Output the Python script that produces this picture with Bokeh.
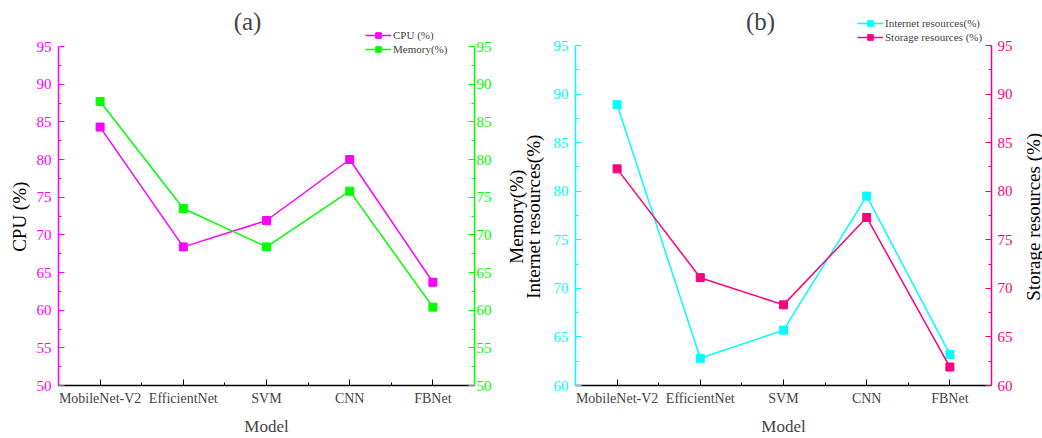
import math
from bokeh.plotting import figure
from bokeh.models import Range1d, LinearAxis, FixedTicker, Legend, LegendItem, Label
from bokeh.layouts import row
from bokeh.embed import file_html
from bokeh.resources import INLINE

models = ["MobileNet-V2", "EfficientNet", "SVM", "CNN", "FBNet"]
cpu = [84.3, 68.4, 71.9, 80.0, 63.7]
memory = [87.7, 73.5, 68.4, 75.8, 60.4]
internet = [88.9, 62.8, 65.7, 79.5, 63.2]
storage = [82.3, 71.1, 68.3, 77.3, 61.9]
ticks_a = [50, 55, 60, 65, 70, 75, 80, 85, 90, 95]
ticks_b = [60, 65, 70, 75, 80, 85, 90, 95]

FONT = "Liberation Serif"
MAGENTA = "#FF00FF"
GREEN = "#00FF00"
CYAN = "#00FFFF"
PINK = "#FF0080"
PAD = "\u00a0" * 10  # shifts rotated axis titles down to the centre of the tick span


def style_y_axis(ax, color, ticks, standoff):
    ax.ticker = FixedTicker(ticks=ticks, minor_ticks=[t + 2.5 for t in ticks[:-1]])
    ax.bounds = (ticks[0], ticks[-1])
    ax.axis_label = None
    ax.axis_line_color = color
    ax.axis_line_width = 1.5
    ax.major_tick_line_color = color
    ax.minor_tick_line_color = color
    ax.major_tick_line_width = 1.2
    ax.minor_tick_line_width = 1.2
    ax.major_tick_in = 6
    ax.major_tick_out = 0
    ax.minor_tick_in = 3
    ax.minor_tick_out = 0
    ax.major_label_text_color = color
    ax.major_label_text_font = FONT
    ax.major_label_text_font_size = "15px"
    ax.major_label_standoff = standoff


def make_panel(title, title_pos, left_vals, right_vals, left_color, right_color,
               left_name, right_name, ticks, width, bl, br, top_px,
               legend_loc, ls, rs):
    lo, hi = ticks[0], ticks[-1]
    bb = 53
    frame_px = 438 - bb
    hi_ext = hi + top_px * (hi - lo) / (frame_px - top_px)
    p = figure(width=width, height=438, output_backend="svg", toolbar_location=None,
               title=None,
               x_range=Range1d(-0.5, 4.5), y_range=Range1d(lo, hi_ext),
               min_border_left=bl, min_border_right=br, min_border_top=0,
               min_border_bottom=bb)
    p.extra_y_ranges = {"right": Range1d(lo, hi_ext)}
    p.outline_line_color = None
    p.xgrid.visible = False
    p.ygrid.visible = False
    p.background_fill_color = "white"
    p.border_fill_color = "white"

    xs = list(range(len(models)))
    xa = p.xaxis[0]
    xa.ticker = FixedTicker(ticks=xs, minor_ticks=[i + 0.5 for i in xs[:-1]])
    xa.major_label_overrides = {i: m for i, m in enumerate(models)}
    xa.axis_label = "Model"
    xa.axis_label_text_font = FONT
    xa.axis_label_text_font_size = "17px"
    xa.axis_label_text_font_style = "normal"
    xa.axis_label_standoff = 8
    xa.axis_line_color = "black"
    xa.axis_line_width = 1.5
    xa.major_tick_in = 6
    xa.major_tick_out = 0
    xa.minor_tick_in = 3
    xa.minor_tick_out = 0
    xa.major_label_text_font = FONT
    xa.major_label_text_font_size = "14px"
    xa.major_label_standoff = 5

    style_y_axis(p.yaxis[0], left_color, ticks, ls)
    rax = LinearAxis(y_range_name="right")
    style_y_axis(rax, right_color, ticks, rs)
    p.add_layout(rax, "right")

    l1 = p.line(xs, left_vals, line_color=left_color, line_width=1.5)
    s1 = p.scatter(xs, left_vals, marker="square", size=8, fill_color=left_color,
                   line_color=left_color)
    l2 = p.line(xs, right_vals, line_color=right_color, line_width=1.5,
                y_range_name="right")
    s2 = p.scatter(xs, right_vals, marker="square", size=8, fill_color=right_color,
                   line_color=right_color, y_range_name="right")

    legend = Legend(items=[LegendItem(label=left_name, renderers=[l1, s1]),
                           LegendItem(label=right_name, renderers=[l2, s2])],
                    location=legend_loc)
    legend.background_fill_alpha = 0
    legend.border_line_color = None
    legend.padding = 0
    legend.margin = 0
    legend.spacing = 0
    legend.glyph_width = 26
    legend.glyph_height = 14
    legend.label_height = 14
    legend.label_standoff = 2
    legend.label_text_font = FONT
    legend.label_text_font_size = "11px"
    p.add_layout(legend)

    p.add_layout(Label(x=title_pos[0], y=title_pos[1], x_units="screen",
                       y_units="screen", text=title, text_align="center",
                       text_baseline="middle", text_font=FONT,
                       text_font_size="25px"))
    return p


def label_fig(width, labels):
    # narrow strip whose left side panel carries the rotated axis titles
    d = figure(width=width, height=438, output_backend="svg", toolbar_location=None,
               title=None, x_axis_location=None, y_axis_location=None,
               x_range=Range1d(0, 1), y_range=Range1d(0, 1),
               min_border_left=width - 1, min_border_right=0,
               min_border_top=0, min_border_bottom=53)
    d.outline_line_color = None
    d.background_fill_color = "white"
    d.border_fill_color = "white"
    for g in d.grid:
        g.visible = False
    for text, standoff in labels:
        ax = LinearAxis(ticker=FixedTicker(ticks=[]), axis_label=text + PAD)
        ax.axis_label_standoff = standoff
        ax.axis_label_text_font = FONT
        ax.axis_label_text_font_size = "19px"
        ax.axis_label_text_font_style = "normal"
        ax.axis_label_text_color = "black"
        ax.axis_line_color = None
        ax.major_tick_in = 0
        ax.major_tick_out = 0
        ax.minor_tick_in = 0
        ax.minor_tick_out = 0
        ax.major_label_standoff = 0
        d.add_layout(ax, "left")
    return d


fl = label_fig(33, [("CPU (%)", 3)])
pa = make_panel("(a)", (189, 364), cpu, memory, MAGENTA, GREEN,
                "CPU (%)", "Memory(%)", ticks_a, 461, 25, 17, 46, (307, 329), 7, 2)
fm = label_fig(56, [("Internet resources(%)", 6), ("Memory(%)", -7)])
pb = make_panel("(b)", (185, 364), internet, storage, CYAN, PINK,
                "Internet resources(%)", "Storage resources (%)", ticks_b, 465, 22, 22,
                45, (282, 341), 7, 6)
fr = label_fig(27, [("Storage resources (%)", -2)])

layout = row(fl, pa, fm, pb, fr)
open("out.html", "w").write(file_html(layout, INLINE))
